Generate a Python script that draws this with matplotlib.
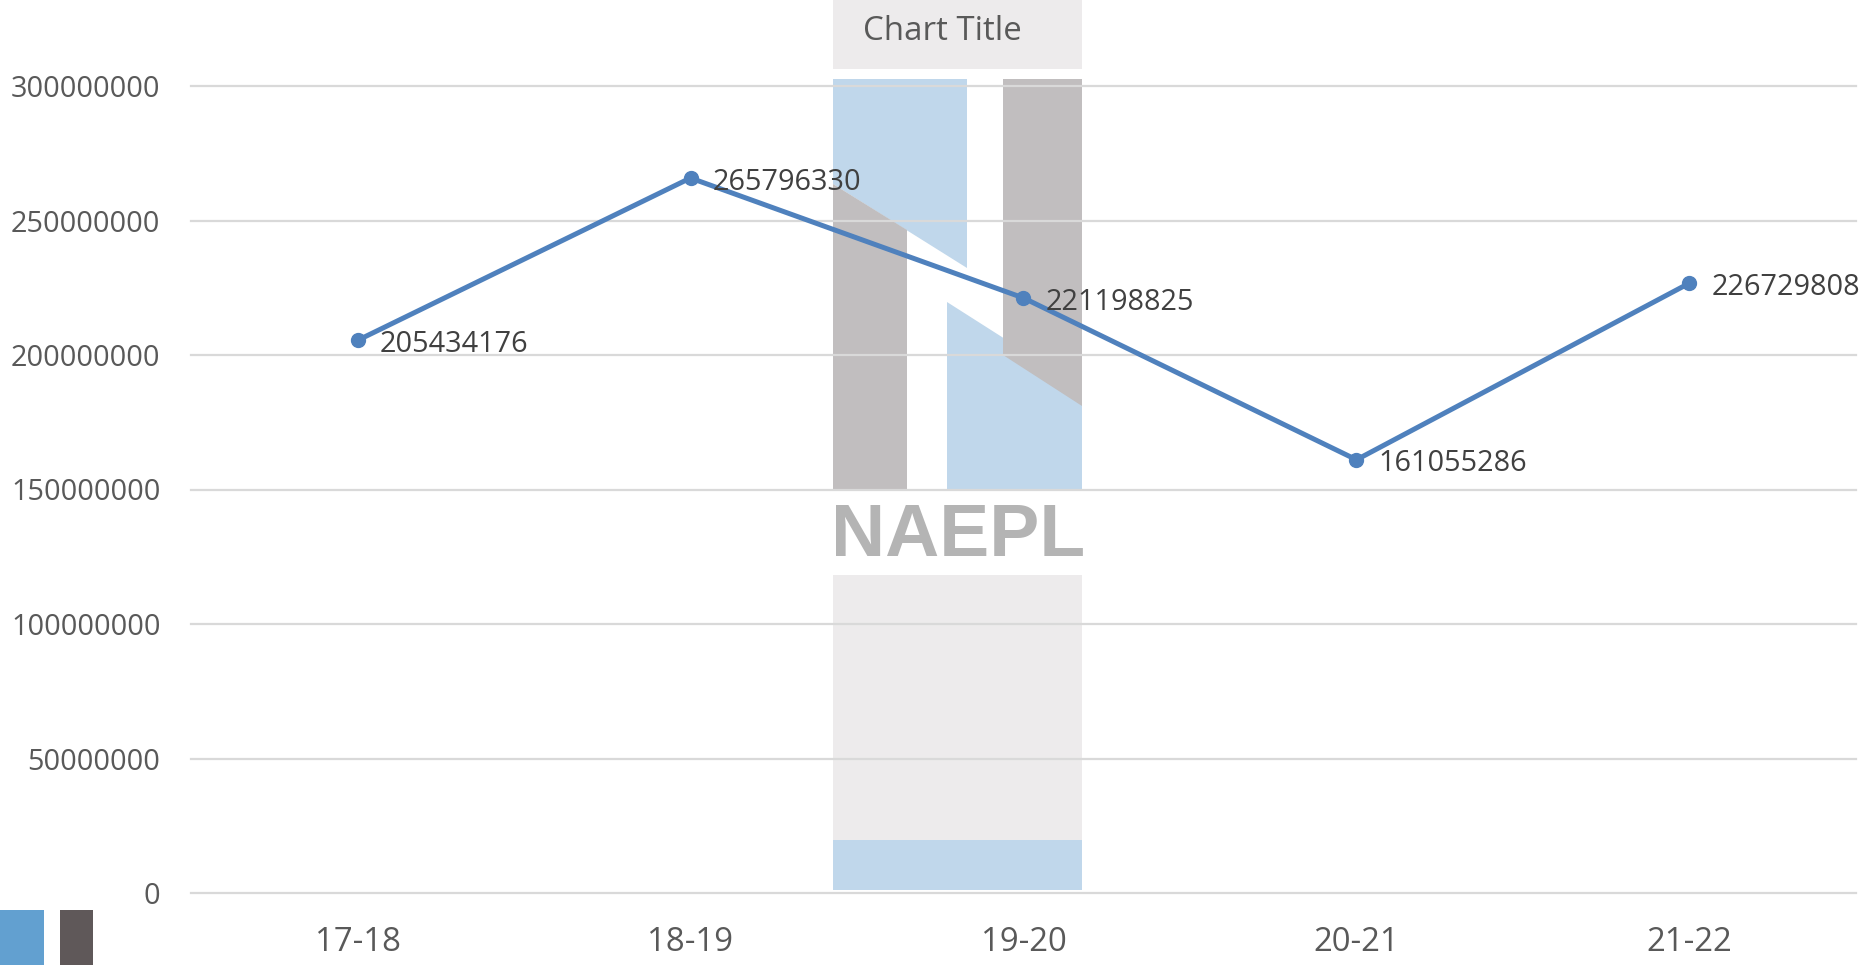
import numpy as np
import matplotlib
matplotlib.use('Agg')
import matplotlib.pyplot as plt
from matplotlib.patches import Rectangle, Polygon
from matplotlib import font_manager

seasons = ['17-18', '18-19', '19-20', '20-21', '21-22']
values = [205434176, 265796330, 221198825, 161055286, 226729808]
y_ticks = [0, 50000000, 100000000, 150000000, 200000000, 250000000, 300000000]
title = 'Chart Title'
watermark = 'NAEPL'

W, H = 1874, 965
plt.rcParams['font.family'] = ['Open Sans', 'DejaVu Sans']

fig = plt.figure(figsize=(W / 100, H / 100), dpi=100)
fig.patch.set_facecolor('white')


def px(x, y):
    # pixel (top-left origin) -> figure fraction
    return (x / W, 1 - y / H)


def add_rect(x0, y0, x1, y1, color, z=0):
    fx, fy = px(x0, y1)
    r = Rectangle((fx, fy), (x1 - x0) / W, (y1 - y0) / H, transform=fig.transFigure,
                  facecolor=color, edgecolor='none', zorder=z)
    fig.add_artist(r)


def add_poly(pts, color, z=0):
    p = Polygon([px(x, y) for x, y in pts], closed=True, transform=fig.transFigure,
                facecolor=color, edgecolor='none', zorder=z)
    fig.add_artist(p)


# watermark logo behind the chart
grey_bg = '#edebec'
light_blue = '#c0d7eb'
pillar = '#c1bebf'
add_rect(833, 0, 1082, 69, grey_bg, z=-5)
add_poly([(833, 79), (967, 79), (967, 268), (833, 184)], light_blue, z=-5)
add_poly([(833, 184), (907, 230), (907, 490), (833, 490)], pillar, z=-5)
add_poly([(947, 302), (1082, 388), (1082, 490), (947, 490)], light_blue, z=-5)
add_poly([(1003, 79), (1082, 79), (1082, 406), (1003, 355)], pillar, z=-5)
add_rect(833, 575, 1082, 890, grey_bg, z=-5)
add_rect(833, 840, 1082, 890, light_blue, z=-5)

names = {f.name for f in font_manager.fontManager.ttflist}
if 'Liberation Sans Narrow' in names:
    wm_font, wm_size = 'Liberation Sans Narrow', 65
else:
    wm_font, wm_size = 'Liberation Sans', 54
fig.text(*px(958, 536), watermark, ha='center', va='center', fontsize=wm_size,
         fontweight='bold', family=wm_font, color='#b4b4b4', zorder=-4)

# corner logo piece bottom-left
add_rect(0, 910, 44, 965, '#62a0d0', z=-5)
add_rect(60, 910, 93, 965, '#5f5859', z=-5)

ax = fig.add_axes([191 / W, (H - 893) / H, (1856 - 191) / W, (893 - 86) / H])
ax.set_facecolor('none')
ax.set_zorder(1)

x = np.arange(len(seasons))
ax.plot(x, values, color='#4f81bd', lw=3.6, marker='o', ms=10, zorder=3, clip_on=False)
for xi, v in zip(x, values):
    ax.annotate(str(v), (xi, v), xytext=(16, -3), textcoords='offset points',
                ha='left', va='center', fontsize=20.8, color='#404040', zorder=4)

ax.set_xlim(-0.5, len(seasons) - 0.5)
ax.set_ylim(0, 300000000)
ax.set_yticks(y_ticks)
ax.set_yticklabels([str(t) for t in y_ticks])
ax.set_xticks(x)
ax.set_xticklabels(seasons)
ax.tick_params(axis='y', length=0, labelsize=20.8, labelcolor='#595959', pad=22)
ax.tick_params(axis='x', length=0, labelsize=23.7, labelcolor='#595959', pad=24)
for s in ax.spines.values():
    s.set_visible(False)
for t in y_ticks:
    ax.axhline(t, color='#d9d9d9', lw=1.6, zorder=1, clip_on=False)

fig.text(*px(942, 31), title, ha='center', va='center', fontsize=23.8, color='#595959')

fig.savefig('out.png', dpi=100)
